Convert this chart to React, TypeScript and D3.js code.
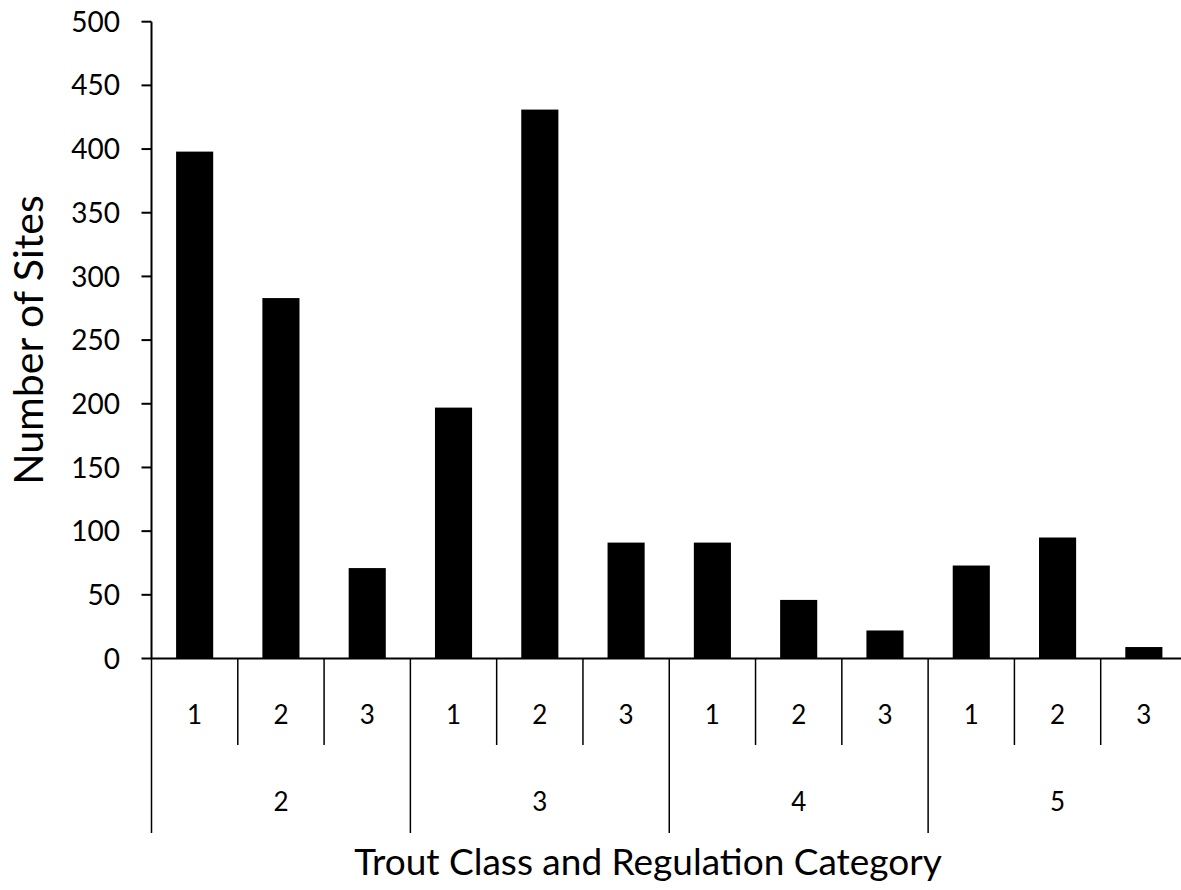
import React from "react";
import * as d3 from "d3";

const groups = ["2", "3", "4", "5"];
const regs = ["1", "2", "3"];
const values = [398, 283, 71, 197, 431, 91, 91, 46, 22, 73, 95, 9];
const yTicks = [0, 50, 100, 150, 200, 250, 300, 350, 400, 450, 500];

const W = 1181;
const H = 890;
const FONT = "Lato, 'Open Sans', sans-serif";

export default function App() {
  const left = 151.5;
  const right = 1187;
  const y0 = 658.5;
  const yTop = 21.7;
  const idx = values.map((_, i) => i);
  const x = d3.scaleBand<number>().domain(idx).range([left, right]).paddingInner(0.57).paddingOuter(0.285);
  const step = (right - left) / values.length;
  const y = d3.scaleLinear().domain([0, 500]).range([y0, yTop]);

  return (
    <svg width={W} height={H} style={{ position: "absolute", left: 0, top: 0, background: "#fff" }}>
      <rect x={0} y={0} width={W} height={H} fill="#fff" />
      {values.map((v, i) => (
        <rect key={i} x={x(i)} y={y(v)} width={x.bandwidth()} height={y0 - y(v)} fill="#000" />
      ))}
      {/* y axis */}
      <line x1={left} x2={left} y1={yTop} y2={y0} stroke="#000" strokeWidth={2} />
      {yTicks.map((t) => (
        <g key={t}>
          <line x1={left - 10} x2={left} y1={y(t)} y2={y(t)} stroke="#000" strokeWidth={2} />
          <text x={120} y={y(t)} dy="0.36em" textAnchor="end" fontFamily={FONT} fontSize={28} fill="#000">
            {t}
          </text>
        </g>
      ))}
      {/* x axis */}
      <line x1={left} x2={right} y1={y0} y2={y0} stroke="#000" strokeWidth={2} />
      {idx.map((i) => {
        const xs = left + i * step;
        const isGroup = i % 3 === 0;
        return <line key={"s" + i} x1={xs} x2={xs} y1={y0} y2={isGroup ? 833 : 745} stroke="#000" strokeWidth={1.5} />;
      })}
      <line x1={right} x2={right} y1={y0} y2={833} stroke="#000" strokeWidth={1.5} />
      {idx.map((i) => (
        <text key={"r" + i} x={x(i)! + x.bandwidth() / 2} y={724} textAnchor="middle" fontFamily={FONT} fontSize={26} fill="#000">
          {regs[i % 3]}
        </text>
      ))}
      {groups.map((g, gi) => (
        <text key={"g" + g} x={left + (gi * 3 + 1.5) * step} y={811} textAnchor="middle" fontFamily={FONT} fontSize={26} fill="#000">
          {g}
        </text>
      ))}
      <text x={648} y={875} textAnchor="middle" fontFamily={FONT} fontSize={37} fill="#000">
        Trout Class and Regulation Category
      </text>
      <text transform="translate(43,340) rotate(-90)" textAnchor="middle" fontFamily={FONT} fontSize={41} fill="#000">
        Number of Sites
      </text>
    </svg>
  );
}
